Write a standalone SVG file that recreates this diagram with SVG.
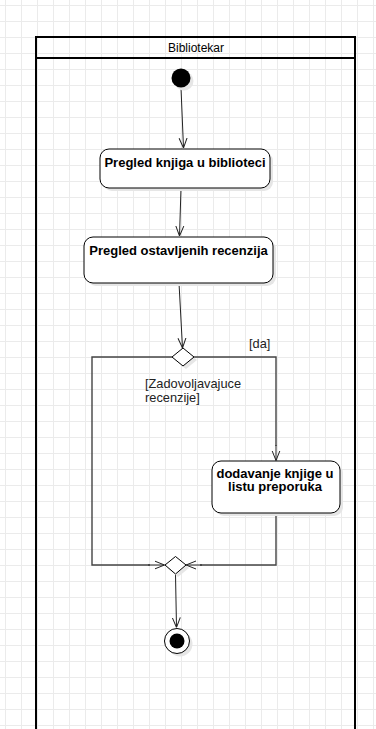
<svg xmlns="http://www.w3.org/2000/svg" width="376" height="729" viewBox="0 0 376 729">
  <defs>
    <pattern id="grid" x="5" y="5" width="16" height="16" patternUnits="userSpaceOnUse">
      <path d="M0 0.5H16M0.5 0V16" fill="none" stroke="#ebebeb" stroke-width="1"/>
    </pattern>
    <marker id="open" viewBox="0 0 10 10" refX="10" refY="5" markerWidth="10" markerHeight="10" markerUnits="userSpaceOnUse" orient="auto">
      <path d="M0 1L10 5L0 9" fill="none" stroke="#222" stroke-width="1"/>
    </marker>
    <style>
      .act { fill: #fff; stroke: #000; stroke-width: 1; }
      .shadow { fill: #e6e6e6; stroke: none; }
      .bold { font-family: "Liberation Sans", Arial, sans-serif; font-size: 13px; font-weight: bold; fill: #000; }
      .lbl { font-family: "Liberation Sans", Arial, sans-serif; font-size: 12.8px; fill: #222; }
      .edge { fill: none; stroke: #222; stroke-width: 1; }
      .flow { fill: none; stroke: #444; stroke-width: 1.4; }
    </style>
  </defs>

  <rect width="376" height="729" fill="#fff"/>
  <rect width="376" height="729" fill="url(#grid)"/>

  <!-- swimlane -->
  <g id="lane">
    <rect x="36" y="37" width="319" height="700" fill="none" stroke="#000" stroke-width="2"/>
    <line x1="36" y1="58" x2="355" y2="58" stroke="#000" stroke-width="2"/>
    <text x="196" y="52" text-anchor="middle" font-family="Liberation Sans, Arial, sans-serif" font-size="12" fill="#000">Bibliotekar</text>
  </g>

  <!-- connectors -->
  <g id="edges">
    <path class="edge" d="M181 88L183.5 148" marker-end="url(#open)"/>
    <path class="edge" d="M181 188L179.5 236" marker-end="url(#open)"/>
    <path class="edge" d="M179 283L182.5 348" marker-end="url(#open)"/>
    <path class="flow" d="M194 357H276V446"/>
    <path class="edge" d="M276 445V460.5" marker-end="url(#open)"/>
    <path class="flow" d="M172 357H92V565H150"/>
    <path class="edge" d="M148 565H164.5" marker-end="url(#open)"/>
    <path class="flow" d="M276 513V565H200"/>
    <path class="edge" d="M202 565H186" marker-end="url(#open)"/>
    <path class="edge" d="M175.5 574.5L176.5 627.5" marker-end="url(#open)"/>
    <text class="lbl" x="249" y="348">[da]</text>
    <text class="lbl" x="145" y="387.5">[Zadovoljavajuce</text>
    <text class="lbl" x="145" y="401.5">recenzije]</text>
  </g>

  <!-- initial node -->
  <g id="start">
    <circle cx="184" cy="81" r="9.5" class="shadow"/>
    <circle cx="181" cy="78" r="9.5" fill="#000"/>
  </g>

  <!-- actions -->
  <g id="pregled-knjiga">
    <rect x="103" y="152" width="170" height="39" rx="9" class="shadow"/>
    <rect x="100" y="149" width="170" height="39" rx="9" class="act"/>
    <text x="185" y="167" text-anchor="middle" class="bold">Pregled knjiga u biblioteci</text>
  </g>

  <g id="pregled-recenzija">
    <rect x="87" y="240" width="189" height="46" rx="9" class="shadow"/>
    <rect x="84" y="237" width="189" height="46" rx="9" class="act"/>
    <text x="178.5" y="255" text-anchor="middle" class="bold">Pregled ostavljenih recenzija</text>
  </g>

  <g id="decision">
    <path d="M186 351L197 360L186 369L175 360Z" class="shadow"/>
    <path d="M183 348L194 357L183 366L172 357Z" class="act"/>
  </g>

  <g id="dodavanje">
    <rect x="215" y="464" width="128" height="52" rx="9" class="shadow"/>
    <rect x="212" y="461" width="128" height="52" rx="9" class="act"/>
    <text x="275" y="477.5" text-anchor="middle" class="bold">dodavanje knjige u</text>
    <text x="275" y="491" text-anchor="middle" class="bold">listu preporuka</text>
  </g>

  <g id="merge">
    <path d="M178 559L189 568L178 577L167 568Z" class="shadow"/>
    <path d="M175.5 556.5L186 565L175.5 574L165 565Z" class="act"/>
  </g>

  <!-- final node -->
  <g id="end">
    <circle cx="180" cy="644" r="12.5" class="shadow"/>
    <circle cx="177" cy="641" r="12.5" fill="#fff" stroke="#000" stroke-width="1"/>
    <circle cx="177" cy="641" r="7.5" fill="#000"/>
  </g>
</svg>
